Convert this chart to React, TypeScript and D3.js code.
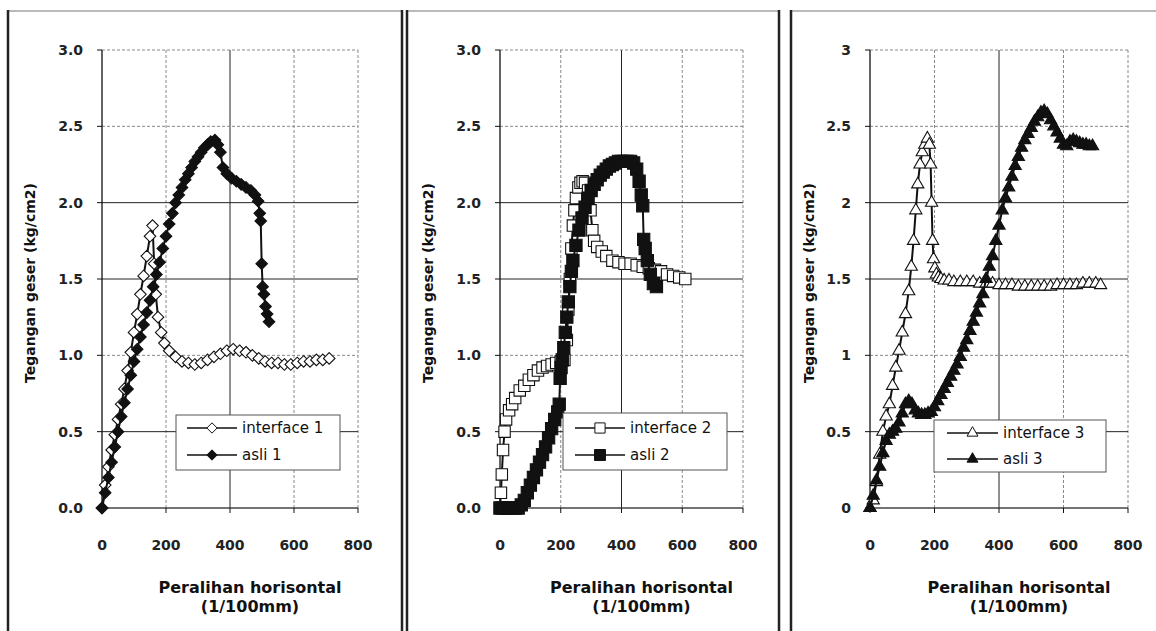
import React from 'react';
import * as d3 from 'd3';

// axis ticks
const xTicks = [0, 200, 400, 600, 800];
const yTicks = [0, 0.5, 1, 1.5, 2, 2.5, 3];
const yTickLabelsA = ["0.0", "0.5", "1.0", "1.5", "2.0", "2.5", "3.0"];
const yTickLabelsB = ["0", "0.5", "1", "1.5", "2", "2.5", "3"];

const yTitle = "Tegangan geser (kg/cm2)";
const xTitle1 = "Peralihan horisontal";
const xTitle2 = "(1/100mm)";

// panel 1
const interface1X = [0, 10, 20, 30, 40, 50, 60, 70, 80, 90, 100, 110, 120, 130, 140, 150, 158, 163, 168, 175, 185, 195, 210, 230, 250, 270, 290, 310, 330, 350, 370, 390, 410, 430, 450, 470, 490, 510, 530, 550, 570, 590, 610, 630, 650, 670, 690, 710];
const interface1Y = [0, 0.15, 0.27, 0.38, 0.48, 0.58, 0.68, 0.78, 0.9, 1.02, 1.15, 1.27, 1.4, 1.52, 1.65, 1.78, 1.85, 1.6, 1.4, 1.25, 1.15, 1.08, 1.03, 0.99, 0.96, 0.95, 0.94, 0.95, 0.97, 0.99, 1.01, 1.03, 1.04, 1.03, 1.02, 1.0, 0.98, 0.96, 0.95, 0.95, 0.94, 0.94, 0.95, 0.96, 0.96, 0.97, 0.97, 0.98];
const asli1X = [0, 10, 20, 30, 40, 50, 60, 70, 80, 90, 100, 110, 120, 130, 140, 150, 160, 170, 180, 190, 200, 210, 220, 230, 240, 250, 260, 270, 280, 290, 300, 310, 320, 330, 340, 353, 362, 370, 378, 390, 405, 420, 435, 450, 465, 478, 488, 493, 496, 499, 502, 506, 511, 516, 522];
const asli1Y = [0, 0.1, 0.2, 0.3, 0.4, 0.5, 0.6, 0.69, 0.78, 0.87, 0.96, 1.04, 1.12, 1.2, 1.28, 1.36, 1.45, 1.53, 1.61, 1.7, 1.78, 1.86, 1.93, 2.0, 2.05, 2.1, 2.15, 2.19, 2.23, 2.27, 2.3, 2.33, 2.36, 2.38, 2.4, 2.41, 2.38, 2.33, 2.23, 2.19, 2.16, 2.14, 2.12, 2.1, 2.08, 2.05, 2.01, 1.93, 1.88, 1.6, 1.45, 1.4, 1.32, 1.27, 1.22];

// panel 2
const interface2X = [0, 3, 6, 10, 15, 20, 30, 40, 50, 65, 80, 95, 110, 125, 140, 155, 170, 185, 200, 212, 220, 225, 230, 235, 240, 245, 250, 258, 265, 272, 280, 290, 298, 304, 310, 320, 335, 350, 370, 390, 410, 430, 450, 470, 490, 510, 530, 550, 570, 590, 610];
const interface2Y = [0, 0.1, 0.22, 0.38, 0.5, 0.58, 0.64, 0.68, 0.72, 0.77, 0.8, 0.84, 0.87, 0.9, 0.92, 0.93, 0.94, 0.95, 0.96, 0.97, 1.1, 1.3, 1.5, 1.7, 1.85, 1.95, 2.03, 2.1, 2.13, 2.14, 2.13, 2.08, 1.95, 1.82, 1.75, 1.71, 1.68, 1.65, 1.62, 1.61, 1.6, 1.6, 1.59, 1.58, 1.57, 1.56, 1.55, 1.53, 1.52, 1.51, 1.5];
const asli2X = [0, 10, 20, 30, 40, 50, 60, 70, 80, 90, 100, 110, 120, 130, 140, 150, 160, 170, 180, 190, 195, 198, 201, 205, 210, 215, 220, 225, 230, 235, 240, 250, 260, 270, 280, 290, 300, 310, 320, 330, 340, 350, 360, 370, 380, 390, 400, 410, 420, 430, 440, 450, 458, 465, 470, 473, 478, 485, 495, 505, 515];
const asli2Y = [0, 0, 0, 0, 0, 0, 0, 0.02, 0.05, 0.1, 0.15, 0.2, 0.25, 0.3, 0.35, 0.4, 0.46, 0.52, 0.58, 0.63, 0.68, 0.85, 0.92, 0.97, 1.05, 1.15, 1.25, 1.35, 1.45, 1.55, 1.62, 1.72, 1.82, 1.9, 1.97, 2.03, 2.08, 2.12, 2.15, 2.18, 2.2, 2.22, 2.24, 2.25, 2.26, 2.27, 2.27, 2.27, 2.27, 2.27, 2.26, 2.22, 2.14, 2.05, 1.98, 1.76, 1.7, 1.62, 1.53, 1.47, 1.45];

// panel 3
const interface3X = [0, 10, 20, 30, 40, 50, 60, 70, 80, 90, 100, 110, 120, 128, 135, 142, 148, 155, 162, 170, 178, 184, 188, 191, 194, 197, 201, 206, 212, 220, 230, 245, 260, 280, 300, 320, 340, 360, 380, 400, 420, 440, 460, 480, 500, 520, 540, 560, 580, 600, 620, 640, 660, 680, 700, 715];
const interface3Y = [0, 0.05, 0.17, 0.35, 0.5, 0.6, 0.68, 0.8, 0.92, 1.03, 1.15, 1.27, 1.42, 1.58, 1.75, 1.95, 2.12, 2.25, 2.33, 2.38, 2.42, 2.38, 2.25, 2.0, 1.75, 1.63, 1.57, 1.53, 1.51, 1.5, 1.49, 1.49, 1.48, 1.48, 1.48, 1.48, 1.47, 1.47, 1.47, 1.46, 1.46, 1.46, 1.45, 1.45, 1.45, 1.45, 1.45, 1.45, 1.46, 1.46, 1.46, 1.46, 1.47, 1.47, 1.47, 1.46];
const asli3X = [0, 10, 20, 30, 40, 50, 60, 70, 80, 90, 100, 110, 120, 130, 140, 150, 160, 170, 180, 190, 200, 210, 220, 230, 240, 250, 260, 270, 280, 290, 300, 310, 320, 330, 340, 350, 360, 370, 380, 390, 400, 410, 420, 430, 440, 450, 460, 470, 480, 490, 500, 510, 520, 530, 540, 550, 560, 570, 580, 590, 600, 610, 620, 630, 640, 650, 660, 670, 680, 690];
const asli3Y = [0, 0.08, 0.18, 0.27, 0.36, 0.44, 0.48, 0.5, 0.52, 0.56, 0.62, 0.68, 0.7, 0.68, 0.64, 0.62, 0.61, 0.61, 0.62, 0.63, 0.66, 0.7, 0.74, 0.78, 0.82, 0.86, 0.9, 0.94, 0.99, 1.05, 1.1, 1.16, 1.22, 1.28, 1.34, 1.4, 1.5, 1.58, 1.65, 1.75, 1.85, 1.95, 2.03, 2.1, 2.17, 2.24, 2.3, 2.36, 2.41, 2.45, 2.49, 2.53, 2.56, 2.59, 2.6, 2.58, 2.54, 2.5, 2.46, 2.42, 2.38, 2.37, 2.4, 2.41, 2.4, 2.39, 2.38, 2.38, 2.37, 2.37];

const FONT = "'DejaVu Sans', 'Liberation Sans', Arial, sans-serif";

type Series = { label: string; xs: number[]; ys: number[]; shape: d3.SymbolType; size: number; filled: boolean };

const panels = [
    {
        left: 102, right: 358, frameL: 8, frameR: 402, yTitleX: 30, yLabels: yTickLabelsA,
        legend: { x: 176, y: 415, w: 164, h: 55, lineX0: 187, lineX1: 237, rowY: [428, 455] },
        series: [
            { label: "interface 1", xs: interface1X, ys: interface1Y, shape: d3.symbolDiamond2, size: 85, filled: false },
            { label: "asli 1", xs: asli1X, ys: asli1Y, shape: d3.symbolDiamond2, size: 85, filled: true },
        ] as Series[],
    },
    {
        left: 500, right: 743, frameL: 407, frameR: 779, yTitleX: 428, yLabels: yTickLabelsA,
        legend: { x: 563, y: 413, w: 164, h: 57, lineX0: 575, lineX1: 625, rowY: [428, 455] },
        series: [
            { label: "interface 2", xs: interface2X, ys: interface2Y, shape: d3.symbolSquare, size: 130, filled: false },
            { label: "asli 2", xs: asli2X, ys: asli2Y, shape: d3.symbolSquare, size: 150, filled: true },
        ] as Series[],
    },
    {
        left: 870, right: 1128, frameL: 791, frameR: 1170, yTitleX: 809, yLabels: yTickLabelsB,
        legend: { x: 934, y: 420, w: 172, h: 52, lineX0: 947, lineX1: 998, rowY: [433, 459] },
        series: [
            { label: "interface 3", xs: interface3X, ys: interface3Y, shape: d3.symbolTriangle, size: 65, filled: false },
            { label: "asli 3", xs: asli3X, ys: asli3Y, shape: d3.symbolTriangle, size: 65, filled: true },
        ] as Series[],
    },
];

const TOP = 50;
const BOTTOM = 508;

function Panel({ p }: { p: typeof panels[number] }) {
    const x = d3.scaleLinear().domain([0, 800]).range([p.left, p.right]);
    const y = d3.scaleLinear().domain([0, 3]).range([BOTTOM, TOP]);
    const line = d3.line<[number, number]>().x(d => x(d[0])).y(d => y(d[1]));
    const midX = (p.left + p.right) / 2 + 20;
    const midY = (TOP + BOTTOM) / 2 + 4;
    const solidX = new Set([400]);
    const solidY = new Set([0.5, 1.5, 2]);

    return (
        <g>
            {/* panel frame */}
            <line x1={p.frameL} x2={p.frameR} y1={11} y2={11} stroke="#777" strokeWidth={1.2} />
            <line x1={p.frameL} x2={p.frameL} y1={10} y2={640} stroke="#222" strokeWidth={2.5} />
            <line x1={p.frameR} x2={p.frameR} y1={10} y2={640} stroke="#222" strokeWidth={2.5} />

            {/* grid */}
            {xTicks.slice(1).map(t => (
                <line key={"gx" + t} x1={x(t)} x2={x(t)} y1={TOP} y2={BOTTOM}
                    stroke={solidX.has(t) ? "#222" : "#888"} strokeWidth={1}
                    strokeDasharray={solidX.has(t) ? undefined : "3 2"} />
            ))}
            {yTicks.slice(1).map(t => (
                <line key={"gy" + t} x1={p.left} x2={p.right} y1={y(t)} y2={y(t)}
                    stroke={solidY.has(t) ? "#222" : "#888"} strokeWidth={1}
                    strokeDasharray={solidY.has(t) ? undefined : "3 2"} />
            ))}

            {/* axes */}
            <line x1={p.left} x2={p.left} y1={TOP} y2={BOTTOM} stroke="#111" strokeWidth={1.3} />
            <line x1={p.left} x2={p.right} y1={BOTTOM} y2={BOTTOM} stroke="#444" strokeWidth={1.3} />
            {yTicks.map(t => (
                <line key={"ty" + t} x1={p.left - 5} x2={p.left} y1={y(t)} y2={y(t)} stroke="#111" />
            ))}
            {xTicks.map(t => (
                <line key={"tx" + t} x1={x(t)} x2={x(t)} y1={BOTTOM} y2={BOTTOM + 5} stroke="#111" />
            ))}
            {yTicks.map((t, i) => (
                <text key={"ly" + t} x={p.left - 19} y={y(t)} textAnchor="end" dominantBaseline="central"
                    fontFamily={FONT} fontWeight="bold" fontSize={14} fill="#222">{p.yLabels[i]}</text>
            ))}
            {xTicks.map(t => (
                <text key={"lx" + t} x={x(t)} y={BOTTOM + 37} textAnchor="middle" dominantBaseline="central"
                    fontFamily={FONT} fontWeight="bold" fontSize={14} fill="#222">{t}</text>
            ))}

            {/* titles */}
            <text transform={`translate(${p.yTitleX},${midY}) rotate(-90)`} textAnchor="middle" dominantBaseline="central"
                fontFamily={FONT} fontWeight="bold" fontSize={14} fill="#111">{yTitle}</text>
            <text x={midX} y={587} textAnchor="middle" dominantBaseline="central"
                fontFamily={FONT} fontWeight="bold" fontSize={16} fill="#111">{xTitle1}</text>
            <text x={midX} y={606} textAnchor="middle" dominantBaseline="central"
                fontFamily={FONT} fontWeight="bold" fontSize={16} fill="#111">{xTitle2}</text>

            {/* series */}
            {p.series.map(s => {
                const pts = s.xs.map((v, i) => [v, s.ys[i]] as [number, number]);
                const sym = d3.symbol().type(s.shape).size(s.size)();
                return (
                    <g key={s.label}>
                        <path d={line(pts) || ""} fill="none" stroke="#111" strokeWidth={2} />
                        {pts.map((d, i) => (
                            <path key={i} d={sym || ""} transform={`translate(${x(d[0])},${y(d[1])})`}
                                fill={s.filled ? "#111" : "#fff"} stroke="#111" strokeWidth={1.1} />
                        ))}
                    </g>
                );
            })}

            {/* legend */}
            <rect x={p.legend.x} y={p.legend.y} width={p.legend.w} height={p.legend.h}
                fill="#fff" stroke="#555" strokeWidth={1} />
            {p.series.map((s, i) => {
                const ly = p.legend.rowY[i];
                const sym = d3.symbol().type(s.shape).size(s.size * 0.8)();
                const mx = (p.legend.lineX0 + p.legend.lineX1) / 2;
                return (
                    <g key={"lg" + s.label}>
                        <line x1={p.legend.lineX0} x2={p.legend.lineX1} y1={ly} y2={ly} stroke="#111" strokeWidth={1.6} />
                        <path d={sym || ""} transform={`translate(${mx},${ly})`}
                            fill={s.filled ? "#111" : "#fff"} stroke="#111" strokeWidth={1} />
                        <text x={p.legend.lineX1 + 5} y={ly} dominantBaseline="central"
                            fontFamily={FONT} fontSize={15} fill="#111">{s.label}</text>
                    </g>
                );
            })}
        </g>
    );
}

export default function App() {
    return (
        <svg width={1156} height={631} style={{ position: 'absolute', left: 0, top: 0, background: '#fff' }}>
            <rect x={0} y={0} width={1156} height={631} fill="#fff" />
            {panels.map((p, i) => <Panel key={i} p={p} />)}
        </svg>
    );
}
